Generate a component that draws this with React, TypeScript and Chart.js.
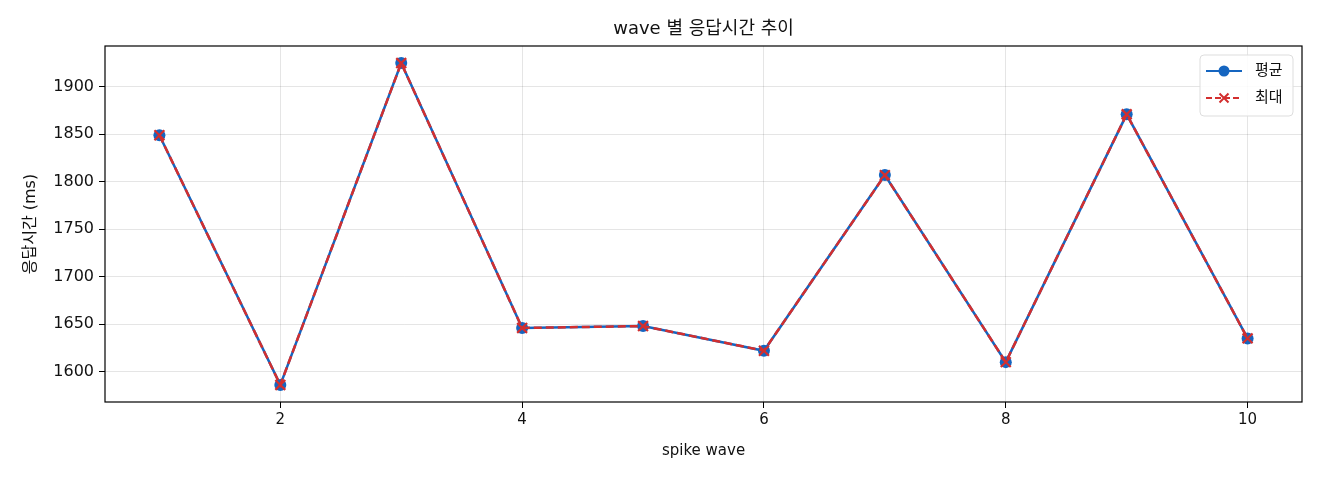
import { useEffect, useRef } from 'react';
import { Chart, registerables } from 'chart.js';

Chart.register(...registerables);

// spike wave 번호
const waves = [1, 2, 3, 4, 5, 6, 7, 8, 9, 10];
const avgMs = [1849, 1586, 1925, 1646, 1648, 1622, 1807, 1610, 1871, 1635];
const maxMs = [1849, 1586, 1925, 1646, 1648, 1622, 1807, 1610, 1871, 1635];
const xTicks = [2, 4, 6, 8, 10];
const yTicks = [1600, 1650, 1700, 1750, 1800, 1850, 1900];
const chartTitle = 'wave 별 응답시간 추이';

const FONT = "'DejaVu Sans', 'Noto Sans CJK KR', sans-serif";
const BLUE = '#1565c0';
const RED = '#d32f2f';

// 제목, 축 테두리, 범례 (그래프 안쪽 오른쪽 위)
const framePlugin = {
  id: 'frame',
  afterDraw(chart: Chart) {
    const { ctx, chartArea: a } = chart;
    ctx.save();
    ctx.strokeStyle = '#000';
    ctx.lineWidth = 1.2;
    ctx.strokeRect(a.left, a.top, a.right - a.left, a.bottom - a.top);

    ctx.fillStyle = '#111';
    ctx.font = `18px ${FONT}`;
    ctx.textAlign = 'center';
    ctx.textBaseline = 'middle';
    ctx.fillText(chartTitle, (a.left + a.right) / 2, 29);
    ctx.textAlign = 'left';

    const bx = a.right - 102;
    const by = a.top + 9;
    const bw = 93;
    const bh = 61;
    ctx.fillStyle = 'rgba(255,255,255,0.85)';
    ctx.strokeStyle = '#dddddd';
    ctx.lineWidth = 1;
    ctx.beginPath();
    ctx.roundRect(bx, by, bw, bh, 4);
    ctx.fill();
    ctx.stroke();

    const rows = [
      { label: chart.data.datasets[0].label, color: BLUE, dash: [] as number[], marker: 'circle' },
      { label: chart.data.datasets[1].label, color: RED, dash: [6, 3], marker: 'x' },
    ];
    rows.forEach((r, i) => {
      const y = by + 16 + i * 27;
      const x0 = bx + 6;
      const x1 = bx + 42;
      ctx.strokeStyle = r.color;
      ctx.lineWidth = 2.2;
      ctx.setLineDash(r.dash);
      ctx.beginPath();
      ctx.moveTo(x0, y);
      ctx.lineTo(x1, y);
      ctx.stroke();
      ctx.setLineDash([]);
      const cx = (x0 + x1) / 2;
      if (r.marker === 'circle') {
        ctx.fillStyle = r.color;
        ctx.beginPath();
        ctx.arc(cx, y, 5.5, 0, Math.PI * 2);
        ctx.fill();
      } else {
        ctx.lineWidth = 2;
        ctx.beginPath();
        ctx.moveTo(cx - 4.5, y - 4.5);
        ctx.lineTo(cx + 4.5, y + 4.5);
        ctx.moveTo(cx + 4.5, y - 4.5);
        ctx.lineTo(cx - 4.5, y + 4.5);
        ctx.stroke();
      }
      ctx.fillStyle = '#111';
      ctx.font = `15px ${FONT}`;
      ctx.textBaseline = 'middle';
      ctx.fillText(String(r.label), bx + 55, y);
    });
    ctx.restore();
  },
};

export default function App() {
  const canvasRef = useRef<HTMLCanvasElement>(null);

  useEffect(() => {
    document.body.style.margin = '0';
    if (!canvasRef.current) return;

    const chart = new Chart(canvasRef.current, {
      type: 'line',
      data: {
        datasets: [
          {
            label: '평균',
            data: waves.map((w, i) => ({ x: w, y: avgMs[i] })),
            borderColor: BLUE,
            backgroundColor: BLUE,
            borderWidth: 2.5,
            pointStyle: 'circle',
            pointRadius: 6,
            pointBorderWidth: 0,
            order: 2,
          },
          {
            label: '최대',
            data: waves.map((w, i) => ({ x: w, y: maxMs[i] })),
            borderColor: RED,
            backgroundColor: RED,
            borderWidth: 2.5,
            borderDash: [8, 4],
            pointStyle: 'crossRot',
            pointRadius: 7,
            pointBorderWidth: 2.2,
            order: 1,
          },
        ],
      },
      options: {
        responsive: false,
        animation: false,
        layout: { padding: { left: 0, right: 18, top: 46, bottom: 0 } },
        plugins: {
          legend: { display: false },
          tooltip: { enabled: false },
          title: { display: false },
        },
        scales: {
          x: {
            type: 'linear',
            min: 0.55,
            max: 10.45,
            afterBuildTicks: (axis) => {
              axis.ticks = xTicks.map((v) => ({ value: v }));
            },
            afterFit: (axis) => {
              axis.height = 78;
            },
            grid: { color: 'rgba(0,0,0,0.1)', tickColor: '#000', tickLength: 6, drawOnChartArea: true },
            border: { display: false },
            ticks: {
              color: '#111',
              font: { family: FONT, size: 15 },
              padding: 3,
              maxRotation: 0,
              callback: (v) => String(v),
            },
            title: {
              display: true,
              text: 'spike wave',
              color: '#111',
              font: { family: FONT, size: 15 },
              padding: { top: 0, bottom: 20 },
            },
          },
          y: {
            min: 1568,
            max: 1943,
            afterBuildTicks: (axis) => {
              axis.ticks = yTicks.map((v) => ({ value: v }));
            },
            afterFit: (axis) => {
              axis.width = 105;
            },
            grid: { color: 'rgba(0,0,0,0.1)', tickColor: '#000', tickLength: 6 },
            border: { display: false },
            ticks: {
              color: '#111',
              font: { family: FONT, size: 16 },
              padding: 5,
              callback: (v) => String(v),
            },
            title: {
              display: true,
              text: '응답시간 (ms)',
              color: '#111',
              font: { family: FONT, size: 16 },
              padding: { top: 21, bottom: 0 },
            },
          },
        },
      },
      plugins: [framePlugin],
    });

    return () => {
      chart.destroy();
    };
  }, []);

  return (
    <div style={{ width: 1320, height: 480, background: '#fff' }}>
      <canvas ref={canvasRef} width={1320} height={480} />
    </div>
  );
}
